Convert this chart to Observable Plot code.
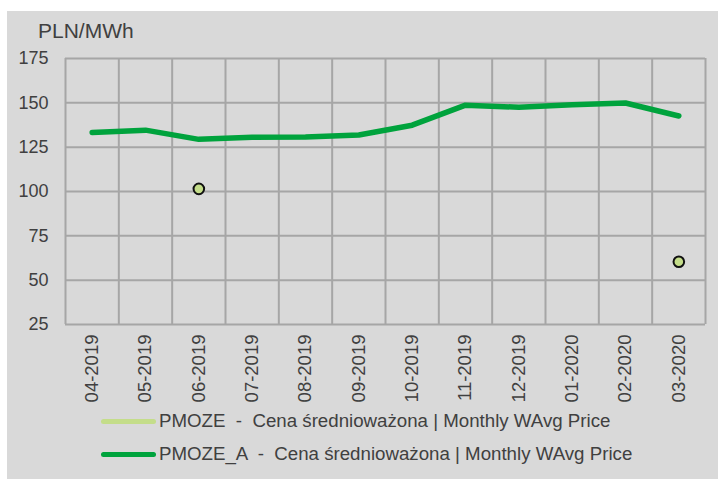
<!DOCTYPE html>
<html>
<head>
<meta charset="utf-8">
<script src="https://cdn.jsdelivr.net/npm/d3@7"></script>
<script src="https://cdn.jsdelivr.net/npm/@observablehq/plot@0.6"></script>
<style>
  html, body { margin: 0; padding: 0; background: #ffffff; }
  body { width: 718px; height: 479px; position: relative; overflow: hidden; font-family: "Liberation Sans", Arial, sans-serif; }
  #panel { position: absolute; left: 7px; top: 11px; width: 711px; height: 468px; background: #d9d9d9; }
  #unit { position: absolute; left: 31px; top: 9px; font-size: 21px; color: #404040; line-height: 1; }
  #chart { position: absolute; left: 0; top: 0; }
  .leg { position: absolute; left: 94px; display: flex; align-items: center; font-size: 18.7px; color: #404040; white-space: pre; line-height: 1; }
  .leg .sw { width: 55px; height: 5px; border-radius: 3px; margin-right: 3px; }
</style>
</head>
<body>
<div id="panel">
  <div id="chart"></div>
  <div id="unit">PLN/MWh</div>
  <div class="leg" style="top:401px"><span class="sw" style="background:#c4dd8a"></span><span>PMOZE  -  Cena średnioważona | Monthly WAvg Price</span></div>
  <div class="leg" style="top:434px"><span class="sw" style="background:#00a33d"></span><span>PMOZE_A  -  Cena średnioważona | Monthly WAvg Price</span></div>
</div>
<script>
const months = ["04-2019","05-2019","06-2019","07-2019","08-2019","09-2019","10-2019","11-2019","12-2019","01-2020","02-2020","03-2020"];
const pmozeA = [133.3, 134.6, 129.4, 130.6, 130.8, 131.9, 137.4, 148.7, 147.5, 148.9, 149.9, 142.6];
const pmoze = [null, null, 101.5, null, null, null, null, null, null, null, null, 60.4];
const yTicks = [25, 50, 75, 100, 125, 150, 175];

const lineData = months.map((m, i) => ({i: i + 0.5, v: pmozeA[i]}));
const dotData = months.map((m, i) => ({i: i + 0.5, v: pmoze[i]})).filter(d => d.v != null);
const bounds = d3.range(0, months.length + 1);
const tickPos = months.map((m, i) => i + 0.5);

const chart = Plot.plot({
  width: 711,
  height: 410,
  marginLeft: 58,
  marginRight: 13,
  marginTop: 47,
  marginBottom: 97,
  style: {background: "transparent", fontSize: "18px", fontFamily: "'Liberation Sans', Arial, sans-serif", color: "#404040"},
  x: {domain: [0, months.length]},
  y: {domain: [25, 175]},
  marks: [
    Plot.ruleX(bounds, {x: d => d, stroke: "#a6a6a6", strokeWidth: 2, strokeOpacity: 1}),
    Plot.ruleY(yTicks, {y: d => d, stroke: "#a6a6a6", strokeWidth: 2, strokeOpacity: 1}),
    Plot.axisY({ticks: yTicks, tickSize: 0, tickPadding: 17, label: null}),
    Plot.axisX({ticks: tickPos, tickFormat: d => months[Math.floor(d)], tickRotate: -90, tickSize: 0, tickPadding: 10, label: null, fontSize: 18.5}),
    Plot.line(lineData, {x: "i", y: "v", stroke: "#00a33d", strokeWidth: 5.5, strokeLinejoin: "round", strokeLinecap: "round"}),
    Plot.dot(dotData, {x: "i", y: "v", r: 5.3, fill: "#c4dd8a", stroke: "#111111", strokeWidth: 2})
  ]
});
document.getElementById("chart").appendChild(chart);
</script>
</body>
</html>
